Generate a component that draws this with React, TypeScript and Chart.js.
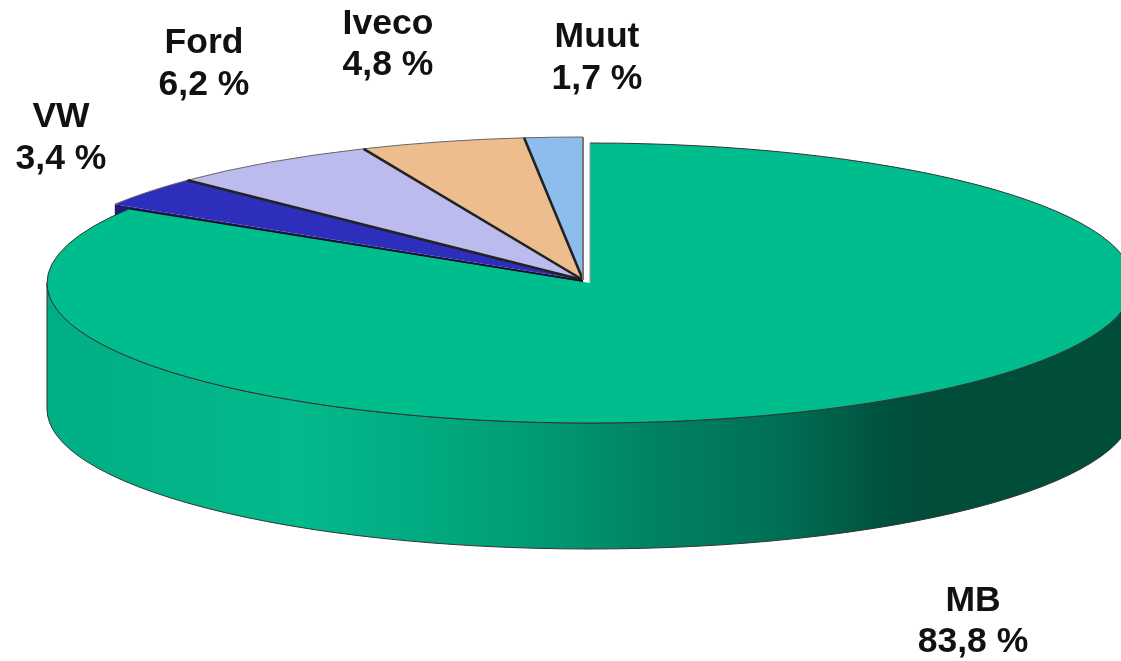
import React, { useEffect, useRef } from "react";
import { Chart, registerables } from "chart.js";

Chart.register(...registerables);

const brands = ["MB", "VW", "Ford", "Iveco", "Muut"];
const shares = [83.8, 3.4, 6.2, 4.8, 1.7];
const sliceColors = ["#00BD8D", "#2E2EBD", "#BBBBEE", "#EDBD8D", "#8DBDEC"];

const DEPTH = 126;
const MAIN = { cx: 590, cy: 283, rx: 543, ry: 140 };
const REST = { cx: 583, cy: 280, rx: 552, ry: 143 };
const LABEL_POS = [
  { x: 973, y1: 601, y2: 642 },
  { x: 61, y1: 117, y2: 159 },
  { x: 204, y1: 43, y2: 85 },
  { x: 388, y1: 24, y2: 65 },
  { x: 597, y1: 37, y2: 79 },
];

const pie3d = {
  id: "pie3d",
  beforeDatasetDraw(chart: any, args: any) {
    const ctx: CanvasRenderingContext2D = chart.ctx;
    const arcs: any[] = args.meta.data;

    const place = (i: number, arc: any) => {
      const g = i === 0 ? MAIN : REST;
      ctx.translate(g.cx, g.cy);
      ctx.scale(g.rx / arc.outerRadius, g.ry / arc.outerRadius);
      ctx.translate(-arc.x, -arc.y);
    };
    const rim = (i: number, arc: any, angle: number) => {
      const g = i === 0 ? MAIN : REST;
      return { x: g.cx + Math.cos(angle) * g.rx, y: g.cy + Math.sin(angle) * g.ry };
    };

    // Front wall of the main slice
    const grad = ctx.createLinearGradient(MAIN.cx - MAIN.rx, 0, MAIN.cx + MAIN.rx, 0);
    grad.addColorStop(0, "#00AE83");
    grad.addColorStop(0.23, "#03BA8C");
    grad.addColorStop(0.44, "#009D76");
    grad.addColorStop(0.56, "#008262");
    grad.addColorStop(0.68, "#006E54");
    grad.addColorStop(0.77, "#005240");
    grad.addColorStop(0.81, "#004D39");
    grad.addColorStop(1, "#004D39");
    ctx.save();
    ctx.beginPath();
    ctx.ellipse(MAIN.cx, MAIN.cy, MAIN.rx, MAIN.ry, 0, 0, Math.PI);
    ctx.ellipse(MAIN.cx, MAIN.cy + DEPTH, MAIN.rx, MAIN.ry, 0, Math.PI, 0, true);
    ctx.closePath();
    ctx.fillStyle = grad;
    ctx.fill();
    ctx.strokeStyle = "#333";
    ctx.lineWidth = 1;
    ctx.stroke();
    ctx.restore();

    // Cut face of the VW slice, mostly hidden by the main slice
    const vw = arcs[1];
    const p = rim(1, vw, vw.startAngle);
    ctx.save();
    ctx.beginPath();
    ctx.moveTo(p.x, p.y);
    ctx.lineTo(p.x, p.y + DEPTH);
    ctx.lineTo(REST.cx, REST.cy + DEPTH);
    ctx.lineTo(REST.cx, REST.cy);
    ctx.closePath();
    ctx.fillStyle = "#1C1C78";
    ctx.fill();
    ctx.restore();

    // Top faces: small slices first, main slice over them
    const order = [1, 2, 3, 4, 0];
    for (const i of order) {
      const arc = arcs[i];
      ctx.save();
      place(i, arc);
      arc.draw(ctx);
      ctx.restore();

      const g = i === 0 ? MAIN : REST;
      // outer rim, thin
      ctx.save();
      place(i, arc);
      ctx.beginPath();
      ctx.arc(arc.x, arc.y, arc.outerRadius, arc.startAngle, arc.endAngle);
      ctx.restore();
      ctx.strokeStyle = i === 0 ? "#333" : "#666";
      ctx.lineWidth = 1;
      ctx.stroke();

      // cut edges
      const a = rim(i, arc, arc.startAngle);
      const b = rim(i, arc, arc.endAngle);
      ctx.save();
      ctx.lineCap = "butt";
      if (i !== 0 && i !== 1) {
        ctx.strokeStyle = "#222";
        ctx.lineWidth = 2.6;
        ctx.beginPath();
        ctx.moveTo(a.x, a.y);
        ctx.lineTo(g.cx, g.cy);
        ctx.stroke();
      }
      if (i === 4) {
        ctx.strokeStyle = "#777";
        ctx.lineWidth = 2;
        ctx.beginPath();
        ctx.moveTo(b.x, b.y);
        ctx.lineTo(g.cx, g.cy);
        ctx.stroke();
      }
      if (i === 0) {
        ctx.strokeStyle = "#111";
        ctx.lineWidth = 1.4;
        ctx.beginPath();
        ctx.moveTo(b.x, b.y);
        ctx.lineTo(REST.cx, REST.cy + 1);
        ctx.stroke();
        ctx.strokeStyle = "#999";
        ctx.lineWidth = 1;
        ctx.beginPath();
        ctx.moveTo(a.x, a.y);
        ctx.lineTo(g.cx, g.cy);
        ctx.stroke();
      }
      ctx.restore();
    }
    return false;
  },
  afterDraw(chart: any) {
    const ctx: CanvasRenderingContext2D = chart.ctx;
    const labels: string[] = chart.data.labels;
    const values: number[] = chart.data.datasets[0].data;
    ctx.save();
    ctx.fillStyle = "#111";
    ctx.font = 'bold 35.5px "Liberation Sans", Arial, sans-serif';
    ctx.textAlign = "center";
    ctx.textBaseline = "middle";
    labels.forEach((name, i) => {
      const pos = LABEL_POS[i];
      ctx.fillText(name, pos.x, pos.y1);
      ctx.fillText(values[i].toFixed(1).replace(".", ",") + " %", pos.x, pos.y2);
    });
    ctx.restore();
  },
};

export default function App() {
  const ref = useRef<HTMLCanvasElement>(null);
  useEffect(() => {
    document.body.style.margin = "0";
    const chart = new Chart(ref.current!, {
      type: "pie",
      data: {
        labels: brands,
        datasets: [{ data: shares, backgroundColor: sliceColors, borderWidth: 0, clip: false } as any],
      },
      options: {
        responsive: false,
        animation: false,
        devicePixelRatio: 1,
        plugins: { legend: { display: false }, tooltip: { enabled: false } },
      },
      plugins: [pie3d as any],
    });
    return () => chart.destroy();
  }, []);
  return <canvas ref={ref} width={1121} height={661} style={{ display: "block", filter: "blur(0.5px)" }} />;
}
